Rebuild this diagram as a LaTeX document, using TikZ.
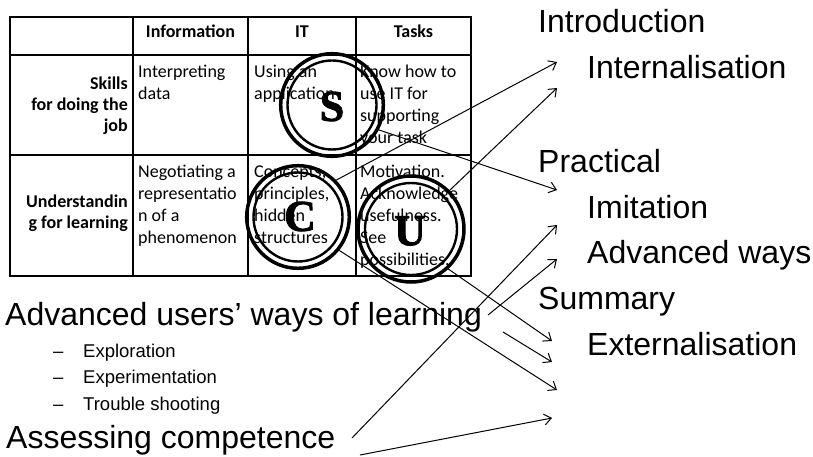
\documentclass[tikz,border=0pt]{standalone}
\usepackage{fontspec}
\setmainfont{Liberation Sans}
\newfontfamily\tabfont{Carlito}
\newfontfamily\letterfont{Liberation Serif}[BoldFeatures={FakeBold=2}]
\usetikzlibrary{arrows.meta}
\newcommand\celltext[2]{\begin{tabular}[t]{@{}#1@{}}#2\end{tabular}}
\begin{document}
\begin{tikzpicture}[x=1pt,y=-1pt,
  grid/.style={line width=2pt},
  cell/.style={inner sep=0pt, anchor=base west, font=\tabfont\fontsize{18}{21.8}\selectfont},
  headcell/.style={inner sep=0pt, font=\tabfont\bfseries\fontsize{18}{21}\selectfont},
  ringout/.style={circle, draw, line width=3.5pt, inner sep=0pt, minimum size=#1},
  ringin/.style={circle, draw, line width=2.4pt, inner sep=0pt, minimum size=#1},
  letter/.style={inner sep=0pt, font=\letterfont\bfseries\fontsize{44}{44}\selectfont},
  big/.style={inner sep=0pt, anchor=base west, font=\fontsize{32}{38}\selectfont},
  small/.style={inner sep=0pt, anchor=base west, font=\fontsize{18.5}{22}\selectfont},
  arr/.style={-{Straight Barb[length=7pt,width=11pt]}, line width=1pt}]
\useasboundingbox (0,0) rectangle (813,457);

% table text
\node[headcell, anchor=base] (hInfo) at (190.5,38) {Information};
\node[headcell, anchor=base] (hIT) at (302,38) {IT};
\node[headcell, anchor=base] (hTasks) at (413.5,38) {Tasks};
\node[headcell, anchor=base east] (rSkills) at (128,90) {\celltext{r}{Skills\\for doing the\\job}};
\node[headcell, anchor=base east] (rUnd) at (128,207) {\celltext{r}{Understandin\\g for learning}};
\node[cell] (c11) at (138,78) {\celltext{l}{Interpreting\\data}};
\node[cell] (c12) at (254,78) {\celltext{l}{Using an\\application}};
\node[cell] (c13) at (360,78) {\celltext{l}{Know how to\\use IT for\\supporting\\your task}};
\node[cell] (c21) at (138,178) {\celltext{l}{Negotiating a\\representatio\\n of a\\phenomenon}};
\node[cell] (c22) at (254,178) {\celltext{l}{Concepts,\\principles,\\hidden\\structures}};
\node[cell] (c23) at (360,178) {\celltext{l}{Motivation.\\Acknowledge\\usefulness.\\See\\possibilities.}};

% table grid
\draw[grid] (10,17) rectangle (471,276);
\draw[grid] (10,55) -- (471,55);
\draw[grid] (10,155) -- (471,155);
\draw[grid] (133,17) -- (133,276);
\draw[grid] (248,17) -- (248,276);
\draw[grid] (356,17) -- (356,276);

% rings
\node[ringout=102.6pt] (Sc) at (332,105) {};
\node[ringin=89pt] (Si) at (332,105) {};
\node[ringout=102.6pt] (Cc) at (298,217) {};
\node[ringin=89pt] (Ci) at (298,217) {};
\node[ringout=106pt] (Uc) at (411,229) {};
\node[ringin=92pt] (Ui) at (411,229) {};
\node[letter] (Sl) at (332,106.5) {S};
\node[letter] (Cl) at (300,216.5) {C};
\node[letter] (Ul) at (410,231) {U};

% right labels
\node[big] (intro) at (538,33) {Introduction};
\node[big] (intern) at (587,79) {Internalisation};
\node[big] (pract) at (538,172) {Practical};
\node[big] (imit) at (587,218) {Imitation};
\node[big] (advw) at (587,263) {Advanced ways};
\node[big] (summ) at (538,309) {Summary};
\node[big] (extern) at (587,355) {Externalisation};

% left labels
\node[big] (advu) at (5,325) {Advanced users’ ways of learning};
\node[small] (d1) at (53,357) {–};
\node[small] (b1) at (83,357) {Exploration};
\node[small] (d2) at (53,383) {–};
\node[small] (b2) at (83,383) {Experimentation};
\node[small] (d3) at (53,410) {–};
\node[small] (b3) at (83,410) {Trouble shooting};
\node[big] (assess) at (6,448) {Assessing competence};

% arrow ends
\coordinate (h1) at (557,62);
\coordinate (h2) at (557,88);
\coordinate (h3) at (557,190);
\coordinate (h4) at (557,225);
\coordinate (h5) at (557,259);
\coordinate (h6) at (552,341);
\coordinate (h7) at (552,362);
\coordinate (h8) at (557,390);
\coordinate (h9) at (552,418);
\coordinate (t4) at (352,438);
\coordinate (t5) at (488,315);
\coordinate (t7) at (503,332);
\coordinate (t9) at (360,455);

\draw[arr] (Cc.44) -- (h1);
\draw[arr] (Uc.45) -- (h2);
\draw[arr] (Sc.-28) -- (h3);
\draw[arr] (t4) -- (h4);
\draw[arr] (t5) -- (h5);
\draw[arr] (Uc.-47) -- (h6);
\draw[arr] (t7) -- (h7);
\draw[arr] (Cc.-39) -- (h8);
\draw[arr] (t9) -- (h9);
\end{tikzpicture}
\end{document}
